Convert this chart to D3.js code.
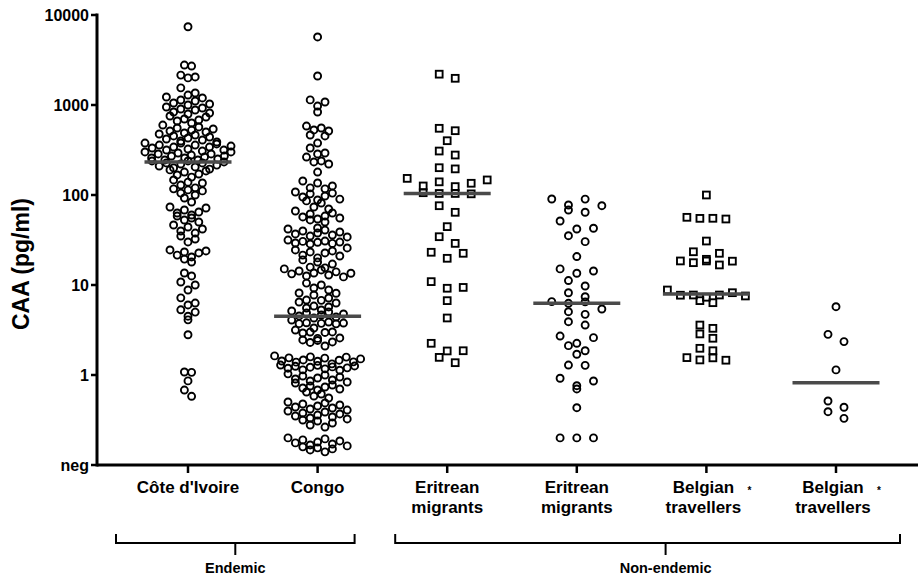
<!DOCTYPE html>
<html><head><meta charset="utf-8">
<script src="https://cdn.jsdelivr.net/npm/d3@7"></script>
<style>
body{margin:0;background:#fff}
svg{display:block}
text{font-family:"Liberation Sans",Arial,sans-serif;font-weight:bold;fill:#000}
</style>
</head><body><svg id="chart" width="918" height="578"></svg>
<script>
// ---------- data (CAA, pg/ml) ----------
const groupNames = [["Côte d'Ivoire"], ["Congo"], ["Eritrean", "migrants"], ["Eritrean", "migrants"], ["Belgian", "travellers"], ["Belgian", "travellers"]];
const groupStars = [false, false, false, false, true, true];
const groupMarkers = ["circle", "circle", "square", "circle", "square", "circle"];
const coteDIvoire = [7400, 2780, 2710, 2150, 2050, 2000, 1550, 1360, 1290, 1227, 1197, 1136, 1108, 1053, 1026, 1000, 950, 926, 903, 880, 836, 815, 794, 755, 736, 699, 681, 664, 631, 599, 570, 555, 541, 527, 514, 501, 489, 476, 464, 453, 441, 430, 419, 408, 398, 388, 378, 378, 369, 359, 359, 350, 341, 341, 333, 324, 316, 316, 308, 301, 301, 293, 286, 286, 278, 271, 271, 264, 258, 258, 251, 245, 245, 239, 239, 233, 227, 227, 221, 215, 210, 205, 200, 194, 190, 185, 180, 171, 167, 158, 147, 139, 136, 129, 120, 117, 114, 111, 105, 100, 92.6, 83.6, 73.6, 71.7, 68.1, 64.7, 63.1, 59.9, 58.4, 55.5, 52.7, 50.1, 46.4, 44.1, 41.9, 39.8, 37.8, 35.0, 32.4, 30.1, 24.5, 23.9, 23.3, 22.7, 21.5, 20.5, 19.4, 18.0, 13.6, 12.6, 10.8, 10, 8.8, 7.2, 6.3, 6.0, 5.3, 5.0, 4.5, 4.1, 2.8, 1.08, 1.07, 0.86, 0.68, 0.58];
const congo = [5700, 2100, 1140, 1080, 974, 836, 584, 555, 528, 514, 464, 453, 378, 333, 293, 286, 264, 239, 233, 221, 180,
  143, 136, 126, 120, 117, 108, 105, 103, 97.5, 95, 90, 88, 86, 81.5,
  73.6, 69.9, 66.4, 63.1, 61.5, 58.4, 57, 55.5, 54.1, 52.8, 50.1,
  43, 41.9, 40.8, 39.8, 38.8, 37.8, 36.9, 35.9, 35, 34.2,
  31.6, 30.8, 30.5, 30.0, 29.8, 29.3, 29.0, 28.6,
  25.8, 24.5, 23.9, 23.3, 22.7, 21.5, 21, 20, 19, 18, 17.1,
  15.8, 15.5, 15.1, 14.7, 14.3, 14, 13.6, 13.5, 13.3, 12.9, 12.6, 12.3,
  10.5, 10, 9.26, 8.8, 8.15, 8.1, 7.74, 7.17, 6.8, 6.75, 6.47, 6.31, 5.84, 5.7, 5.55, 5.28,
  5.14, 5.01, 4.89, 4.76, 4.64, 4.53, 4.41, 4.3,
  4.08, 3.88, 3.8, 3.78, 3.75, 3.72, 3.7, 3.33, 3.16, 3.01, 3.0, 2.97, 2.93, 2.58, 2.55, 2.45, 2.42, 2.33, 2.3, 2.1,
  1.63, 1.59, 1.58, 1.55, 1.54, 1.51, 1.47, 1.46, 1.43, 1.42, 1.40, 1.39, 1.33, 1.29, 1.28, 1.26, 1.25, 1.23, 1.22, 1.2, 1.19, 1.17, 1.14, 1.13,
  1.03, 1.0, 0.975, 0.95, 0.926, 0.903, 0.88, 0.858, 0.836, 0.815, 0.774, 0.755, 0.736, 0.717, 0.699, 0.681, 0.647, 0.615, 0.584, 0.555,
  0.501, 0.489, 0.476, 0.464, 0.453, 0.441, 0.43, 0.419, 0.408, 0.398, 0.388, 0.378, 0.369, 0.359, 0.35, 0.342, 0.333, 0.325, 0.316, 0.308, 0.293, 0.278, 0.264,
  0.2, 0.195, 0.19, 0.185, 0.18, 0.176, 0.171, 0.167, 0.163, 0.159, 0.155, 0.151, 0.147, 0.14];
const eritreanA = [2200, 1980, 551, 518, 401, 308, 278, 201, 195, 153, 147, 140, 135, 126, 124, 106, 104, 104, 103, 76, 64.2, 44.5, 34.4, 29, 23.1, 22.5, 19.8, 10.9, 9.4, 9.2, 6.7, 4.3, 2.25, 1.86, 1.85, 1.57, 1.37];
const eritreanB = [90.3, 90, 77.4, 76.1, 68.1, 64.3, 51.4, 42.7, 41.9, 35.3, 30.3, 20.7, 15.1, 14.3, 13.5, 11.2, 9.75, 8.2, 7.4, 6.53, 6.5, 6.26, 5.41, 5.05, 4.72, 3.91, 3.59, 2.71, 2.6, 2.25, 2.12, 1.86, 1.70, 1.29, 1.28, 0.92, 0.858, 0.76, 0.70, 0.433, 0.2, 0.2, 0.2];
const belgianA = [100, 56.5, 55.1, 55.0, 54.1, 30.8, 23.4, 22.5, 19.3, 18.5, 18.5, 18.4, 17.7, 16.7, 8.8, 8.21, 7.74, 7.74, 7.7, 7.55, 7.31, 6.70, 6.36, 3.59, 3.3, 2.86, 2.56, 1.98, 1.86, 1.56, 1.55, 1.47, 1.46];
const belgianB = [5.74, 2.83, 2.35, 1.14, 0.514, 0.438, 0.391, 0.33];
const groupValues = [coteDIvoire, congo, eritreanA, eritreanB, belgianA, belgianB];
const medians = [233, 4.5, 104, 6.26, 7.94, 0.82];
const yTickValues = [0.1, 1, 10, 100, 1000, 10000];
const yTickLabels = ["neg", "1", "10", "100", "1000", "10000"];
const bracketLabels = ["Endemic", "Non-endemic"];
const bracketGroups = [[0, 1], [2, 5]];
const yTitle = "CAA (pg/ml)";

// ---------- layout ----------
const svg = d3.select("#chart");
const y = d3.scaleLog().domain([0.1, 10000]).range([465, 15]);
const x = d3.scalePoint().domain(d3.range(6)).range([188, 836]);
const colSpacing = [7.2, 7.4, 16, 16.7, 13, 16];
const rowBin = 8.5, maxHalf = 43;

function layout(values, cx, sp) {
  const pts = values.map(v => ({v, py: y(v)})).sort((a, b) => a.py - b.py);
  const rows = [];
  let cur = null;
  pts.forEach(p => {
    if (!cur || p.py - cur[0].py > rowBin) { cur = [p]; rows.push(cur); } else cur.push(p);
  });
  rows.forEach(r => {
    const n = r.length;
    const s = n > 1 ? Math.min(sp, 2 * maxHalf / (n - 1)) : 0;
    const order = d3.range(n).sort((a, b) => ((a * 0.618) % 1) - ((b * 0.618) % 1));
    r.forEach((p, i) => { p.px = cx + (order[i] - (n - 1) / 2) * s; });
  });
  return pts;
}

// axes
const ax = svg.append("g");
ax.append("line").attr("x1", 97).attr("x2", 97).attr("y1", y(10000) - 1.5).attr("y2", y(0.1) + 1.5)
  .attr("stroke", "#000").attr("stroke-width", 3);
ax.append("line").attr("x1", 97).attr("x2", 918).attr("y1", y(0.1)).attr("y2", y(0.1))
  .attr("stroke", "#000").attr("stroke-width", 3);
yTickValues.forEach((t, i) => {
  ax.append("line").attr("x1", 91).attr("x2", 97).attr("y1", y(t)).attr("y2", y(t)).attr("stroke", "#000").attr("stroke-width", 2.5);
  ax.append("text").attr("x", 89).attr("y", y(t)).attr("dy", "0.36em").attr("text-anchor", "end")
    .attr("font-size", 16).text(yTickLabels[i]);
});
ax.append("text").attr("transform", "translate(29,264) rotate(-90)").attr("text-anchor", "middle")
  .attr("font-size", 23).text(yTitle);

groupNames.forEach((lines, i) => {
  const cx = x(i);
  ax.append("line").attr("x1", cx).attr("x2", cx).attr("y1", y(0.1)).attr("y2", 473).attr("stroke", "#000").attr("stroke-width", 2.5);
  const off = groupStars[i] ? -3 : 0;
  lines.forEach((ln, k) => {
    ax.append("text").attr("x", cx + off).attr("y", 493 + k * 20).attr("text-anchor", "middle")
      .attr("font-size", 17).text(ln);
  });
  if (groupStars[i]) {
    ax.append("text").attr("x", cx + 43).attr("y", 494).attr("text-anchor", "middle")
      .attr("font-size", 10).attr("font-weight", "normal").text("*");
  }
});

// brackets
const bracketPad = [[-72, 37], [-52, 64]];
const bracketMid = [0, 24];
bracketGroups.forEach(([a, b], i) => {
  const x1 = x(a) + bracketPad[i][0], x2 = x(b) + bracketPad[i][1];
  const mid = i === 0 ? (x1 + x2) / 2 : (x(3) + x(4)) / 2 + bracketMid[i];
  const g = svg.append("g").attr("stroke", "#000").attr("stroke-width", 2).attr("fill", "none");
  g.append("path").attr("d", `M${x1},534V543H${x2}V534`);
  g.append("line").attr("x1", mid).attr("x2", mid).attr("y1", 543).attr("y2", 555);
  svg.append("text").attr("x", mid).attr("y", 573).attr("text-anchor", "middle")
    .attr("font-size", 14.5).text(bracketLabels[i]);
});

// points
groupValues.forEach((vals, i) => {
  const pts = layout(vals, x(i), colSpacing[i]);
  const g = svg.append("g").attr("fill", "none").attr("stroke", "#000").attr("stroke-width", 1.9);
  if (groupMarkers[i] === "circle") {
    g.selectAll("circle").data(pts).join("circle").attr("cx", d => d.px).attr("cy", d => d.py).attr("r", 3.5);
  } else {
    g.selectAll("rect").data(pts).join("rect").attr("x", d => d.px - 3.4).attr("y", d => d.py - 3.4)
      .attr("width", 6.8).attr("height", 6.8);
  }
});

// medians
svg.append("g").selectAll("line").data(medians).join("line")
  .attr("x1", (d, i) => x(i) - 43.5).attr("x2", (d, i) => x(i) + 43.5)
  .attr("y1", d => y(d)).attr("y2", d => y(d))
  .attr("stroke", "#4a4a4a").attr("stroke-width", 3.5);
</script>
</body></html>
